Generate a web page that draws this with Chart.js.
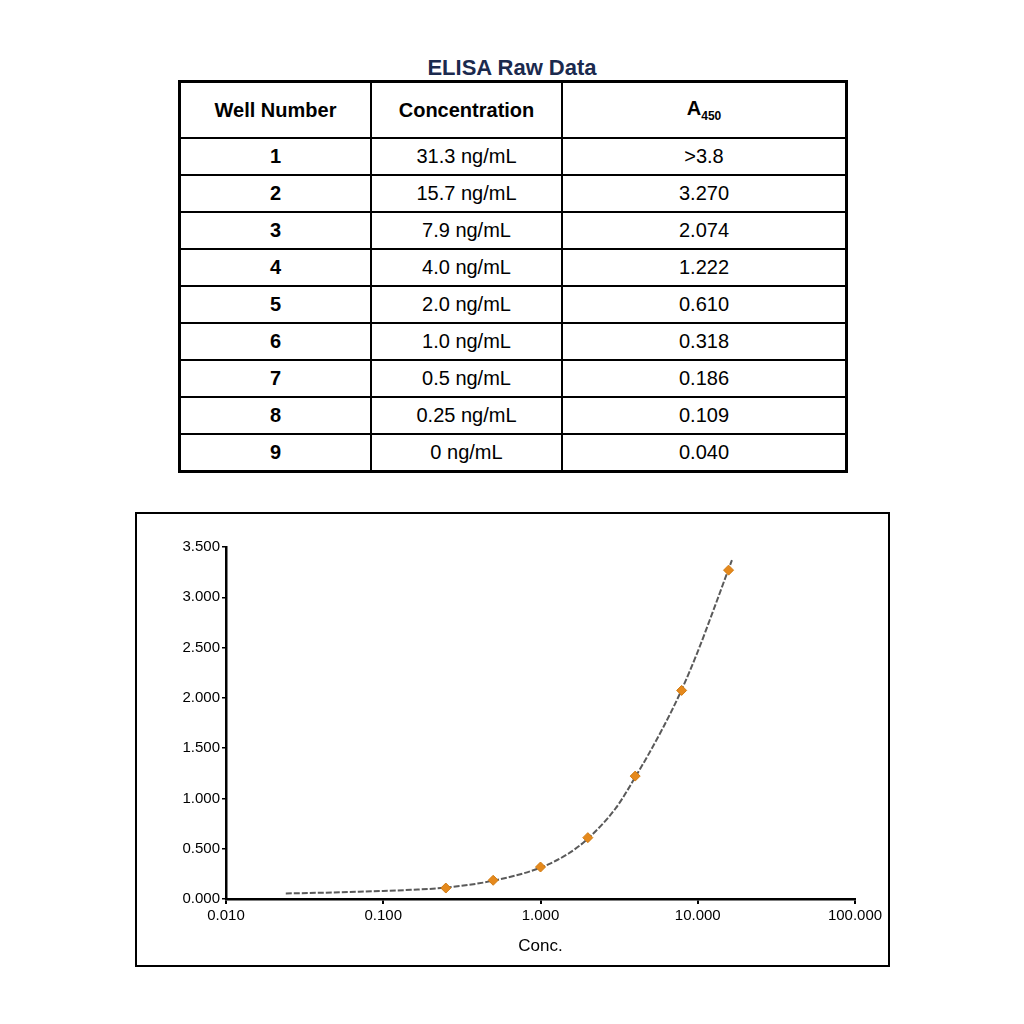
<!DOCTYPE html>
<html lang="en">
<head>
    <meta charset="UTF-8">
    <title>ELISA Raw Data</title>
    <script src="https://cdn.jsdelivr.net/npm/chart.js"></script>
    <style>
        body {
            margin: 0;
            width: 1024px;
            height: 1024px;
            background: #fff;
            font-family: "Liberation Sans", Arial, sans-serif;
            position: relative;
        }
        h1 {
            position: absolute;
            top: 55px;
            left: 0;
            width: 1024px;
            margin: 0;
            text-align: center;
            font-size: 22px;
            font-weight: bold;
            color: #1b2a4e;
        }
        table {
            position: absolute;
            left: 178px;
            top: 80px;
            width: 670px;
            border-collapse: collapse;
            border: 3px solid #000;
        }
        td, th {
            border: 2px solid #000;
            text-align: center;
            padding: 0;
            height: 35px;
            font-size: 20px;
            color: #000;
        }
        th {
            height: 54px;
            font-size: 20px;
        }
        td.well { font-weight: bold; }
        sub { font-size: 12px; }
        .chart-box {
            position: absolute;
            left: 135px;
            top: 512px;
            width: 751px;
            height: 451px;
            border: 2px solid #000;
        }
    </style>
</head>
<body>

<h1>ELISA Raw Data</h1>
<table id="rawTable">
    <thead>
        <tr>
            <th style="width:189px">Well Number</th>
            <th style="width:189px">Concentration</th>
            <th>A<sub>450</sub></th>
        </tr>
    </thead>
    <tbody></tbody>
</table>

<div class="chart-box">
    <canvas id="elisaChart" width="751" height="451"></canvas>
</div>

<script>
    // table values
    const wells = ['1', '2', '3', '4', '5', '6', '7', '8', '9'];
    const concLabels = ['31.3 ng/mL', '15.7 ng/mL', '7.9 ng/mL', '4.0 ng/mL', '2.0 ng/mL', '1.0 ng/mL', '0.5 ng/mL', '0.25 ng/mL', '0 ng/mL'];
    const absLabels = ['>3.8', '3.270', '2.074', '1.222', '0.610', '0.318', '0.186', '0.109', '0.040'];

    // plotted standards (wells 2-8)
    const stdConc = [15.7, 7.9, 4.0, 2.0, 1.0, 0.5, 0.25];
    const stdAbs = [3.270, 2.074, 1.222, 0.610, 0.318, 0.186, 0.109];

    // fitted curve
    const fitConc = [0.024, 0.04, 0.07, 0.1, 0.15, 0.25, 0.5, 1.0, 1.5, 2.0, 3.0, 4.0, 6.0, 7.9, 10, 12.5, 15.7, 16.5];
    const fitAbs = [0.055, 0.062, 0.072, 0.08, 0.091, 0.113, 0.182, 0.312, 0.45, 0.6, 0.9, 1.21, 1.7, 2.08, 2.46, 2.86, 3.28, 3.37];

    const yTicks = [0, 0.5, 1, 1.5, 2, 2.5, 3, 3.5];
    const xTicks = [0.01, 0.1, 1, 10, 100];

    // fill the table
    const tbody = document.querySelector('#rawTable tbody');
    wells.forEach((w, i) => {
        const tr = document.createElement('tr');
        tr.innerHTML = '<td class="well">' + w + '</td><td>' + concLabels[i] + '</td><td></td>';
        tr.lastChild.textContent = absLabels[i];
        tbody.appendChild(tr);
    });

    const tickFont = { family: 'Liberation Sans, Arial', size: 15 };

    new Chart(document.getElementById('elisaChart'), {
        type: 'scatter',
        data: {
            datasets: [
                {
                    label: 'Standards',
                    data: stdConc.map((c, i) => ({ x: c, y: stdAbs[i] })),
                    pointStyle: 'rectRot',
                    pointRadius: 5,
                    backgroundColor: '#e5891c',
                    borderColor: '#d07a10',
                    borderWidth: 1,
                    order: 0
                },
                {
                    label: 'Fit',
                    data: fitConc.map((c, i) => ({ x: c, y: fitAbs[i] })),
                    showLine: true,
                    pointRadius: 0,
                    borderColor: '#5a5a5a',
                    borderWidth: 2,
                    borderDash: [6, 2],
                    cubicInterpolationMode: 'monotone',
                    order: 1
                }
            ]
        },
        options: {
            responsive: false,
            animation: false,
            layout: { padding: { left: 29, right: 33, top: 33, bottom: 0 } },
            plugins: {
                legend: { display: false },
                tooltip: { enabled: false }
            },
            scales: {
                x: {
                    type: 'logarithmic',
                    min: 0.01,
                    max: 100,
                    afterBuildTicks: (scale) => {
                        scale.ticks = xTicks.map(v => ({ value: v }));
                    },
                    afterFit: (scale) => { scale.height = 66; },
                    ticks: {
                        color: '#000',
                        font: tickFont,
                        padding: 3,
                        maxRotation: 0,
                        callback: (v) => Number(v).toFixed(3)
                    },
                    grid: { drawOnChartArea: false, drawTicks: true, tickLength: 5, color: '#000', lineWidth: 2 },
                    border: { display: true, color: '#000', width: 2.5 },
                    title: {
                        display: true,
                        text: 'Conc.',
                        color: '#000',
                        font: { family: 'Liberation Sans, Arial', size: 17 },
                        padding: { top: 4, bottom: 8 }
                    }
                },
                y: {
                    min: 0,
                    max: 3.5,
                    afterBuildTicks: (scale) => {
                        scale.ticks = yTicks.map(v => ({ value: v }));
                    },
                    afterFit: (scale) => { scale.width = 60; },
                    ticks: {
                        color: '#000',
                        font: tickFont,
                        padding: 2,
                        callback: (v) => Number(v).toFixed(3)
                    },
                    grid: { drawOnChartArea: false, drawTicks: true, tickLength: 4, color: '#000', lineWidth: 1.5 },
                    border: { display: true, color: '#000', width: 2.5 }
                }
            }
        }
    });
</script>

</body>
</html>
